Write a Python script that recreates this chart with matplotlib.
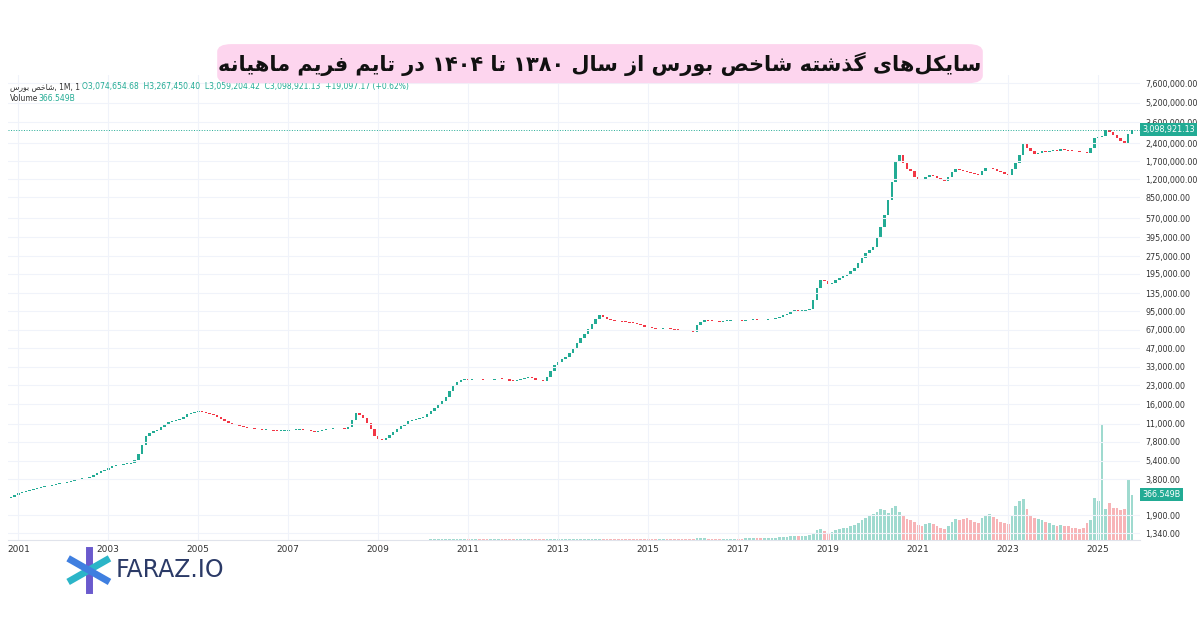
import numpy as np
import matplotlib.pyplot as plt
from matplotlib.patches import FancyBboxPatch

# =============================
# DATA (monthly closes, Oct 2000 .. Oct 2025)
# =============================
START_YEAR, START_MONTH = 2000, 10

closes = [
    2650, 2700, 2800,
    2900, 2950, 3000, 3100, 3150, 3200, 3250, 3300, 3350, 3400, 3450, 3500,
    3550, 3600, 3700, 3750, 3800, 3850, 3900, 3950, 4100, 4250, 4400, 4550,
    4700, 4850, 4950, 5000, 5100, 5100, 5200, 5500, 6200, 7300, 8700, 9300,
    9500, 9800, 10300, 10900, 11300, 11600, 11800, 12100, 12600, 13200, 13600, 13900,
    14000, 13800, 13500, 13300, 13000, 12500, 12000, 11600, 11200, 10900, 10700, 10500,
    10300, 10200, 10100, 10000, 9900, 9800, 9800, 9700, 9650, 9600, 9600, 9650,
    9700, 9750, 9800, 9900, 9850, 9700, 9500, 9400, 9500, 9700, 9900, 10000,
    10100, 10200, 10100, 10000, 10300, 11800, 13500, 13000, 12200, 11200, 10000, 8700,
    8200, 8000, 8300, 8800, 9400, 10000, 10500, 11000, 11500, 11800, 12000, 12200,
    12500, 13200, 14000, 14800, 15800, 17000, 18500, 20500, 22500, 24500, 25500, 26000,
    25500, 25800, 26000, 25800, 25500, 25300, 25600, 25900, 26200, 26100, 25800, 25200,
    25000, 25500, 26000, 26500, 26800, 26300, 25700, 25400, 24800, 27000, 30500, 34000,
    36000, 38000, 40000, 43000, 47000, 52000, 57000, 62000, 68000, 75000, 82000, 89000,
    86000, 82000, 80000, 79000, 78500, 78000, 77500, 76500, 76000, 75000, 73000, 71000,
    70000, 68500, 67500, 68000, 69000, 68500, 68000, 67000, 66500, 66000, 65500, 65000,
    64500, 73000, 78000, 80000, 79500, 79000, 78500, 78000, 79000, 79500, 80000, 80500,
    80000, 79500, 80000, 80500, 81000, 80500, 80000, 80500, 81500, 82500, 84000, 86000,
    88000, 91000, 95000, 97000, 96000, 96500, 97000, 100000, 118000, 150000, 175000, 172000,
    160000, 164000, 175000, 180000, 186000, 195000, 205000, 220000, 240000, 265000, 290000, 310000,
    330000, 390000, 480000, 600000, 800000, 1150000, 1700000, 1900000, 1650000, 1450000, 1420000, 1250000,
    1200000, 1180000, 1250000, 1300000, 1280000, 1220000, 1190000, 1170000, 1250000, 1380000, 1450000, 1430000,
    1410000, 1390000, 1360000, 1330000, 1310000, 1400000, 1480000, 1500000, 1460000, 1420000, 1370000, 1320000,
    1300000, 1450000, 1650000, 1900000, 2350000, 2200000, 2050000, 1950000, 2000000, 2050000, 2020000, 2080000,
    2100000, 2080000, 2150000, 2120000, 2080000, 2070000, 2050000, 2030000, 2020000, 2000000, 2200000, 2650000,
    2700000, 2750000, 3100000, 3000000, 2800000, 2650000, 2500000, 2350000, 2850000, 3098921.13,
]

# volume in billions
volumes = [
    1, 1, 1,
    1, 1, 1, 1, 1, 1, 1, 1, 1, 1, 1, 1,
    1, 1, 1, 1, 1, 1, 1, 1, 1, 1, 1, 1,
    1, 1, 1, 1, 1, 1, 1, 1, 2, 2, 2, 2,
    2, 2, 2, 2, 2, 2, 2, 2, 2, 2, 2, 2,
    2, 2, 2, 2, 2, 2, 2, 2, 2, 2, 2, 2,
    2, 2, 2, 2, 2, 2, 2, 2, 2, 2, 2, 2,
    2, 2, 2, 2, 2, 2, 2, 2, 2, 2, 2, 2,
    2, 2, 2, 2, 3, 3, 3, 3, 3, 3, 3, 3,
    3, 3, 3, 3, 3, 3, 3, 3, 3, 3, 3, 3,
    3, 3, 4, 4, 4, 4, 5, 5, 5, 5, 5, 5,
    5, 5, 5, 5, 5, 5, 5, 5, 5, 5, 5, 5,
    5, 5, 5, 5, 5, 5, 5, 5, 5, 6, 6, 7,
    7, 7, 8, 8, 8, 9, 9, 9, 10, 10, 11, 11,
    10, 10, 9, 9, 9, 9, 9, 9, 9, 9, 9, 9,
    9, 9, 9, 9, 9, 9, 9, 9, 9, 9, 9, 9,
    9, 12, 12, 12, 10, 10, 10, 10, 10, 10, 10, 10,
    10, 10, 12, 12, 12, 12, 14, 14, 15, 16, 18, 20,
    22, 25, 30, 30, 28, 30, 32, 40, 60, 80, 90, 70,
    60, 65, 80, 90, 95, 100, 110, 120, 140, 160, 180, 200,
    210, 230, 250, 240, 220, 260, 280, 230, 200, 170, 160, 150,
    120, 110, 130, 140, 130, 110, 100, 90, 110, 150, 170, 160,
    170, 180, 160, 150, 140, 180, 200, 210, 190, 170, 150, 140,
    130, 200, 280, 320, 330, 250, 200, 180, 170, 160, 150, 140,
    120, 110, 120, 115, 110, 100, 95, 90, 100, 140, 160, 340,
    320, 940, 250, 300, 260, 260, 240, 250, 500, 366.549,
]

YEAR_TICKS = list(range(2001, 2026, 2))
PRICE_TICKS = [1340, 1900, 3800, 5400, 7800, 11000, 16000, 23000, 33000, 47000, 67000,
               95000, 135000, 195000, 275000, 395000, 570000, 850000, 1200000, 1700000,
               2400000, 3600000, 5200000, 7600000]

TITLE = "سایکل‌های گذشته شاخص بورس از سال ۱۳۸۰ تا ۱۴۰۴ در تایم فریم ماهیانه"

UP = "#22ab94"
DOWN = "#f23645"
UP_VOL = "#9fdacf"
DOWN_VOL = "#f7b4b7"

# =============================
# Minimal Persian shaping (matplotlib has no bidi / shaping)
# =============================
FORMS = {  # iso, fin, ini, med (None -> right-joining only)
    "ا": (0xFE8D, 0xFE8E, None, None),
    "ب": (0xFE8F, 0xFE90, 0xFE91, 0xFE92),
    "ت": (0xFE95, 0xFE96, 0xFE97, 0xFE98),
    "خ": (0xFEA5, 0xFEA6, 0xFEA7, 0xFEA8),
    "د": (0xFEA9, 0xFEAA, None, None),
    "ذ": (0xFEAB, 0xFEAC, None, None),
    "ر": (0xFEAD, 0xFEAE, None, None),
    "ز": (0xFEAF, 0xFEB0, None, None),
    "س": (0xFEB1, 0xFEB2, 0xFEB3, 0xFEB4),
    "ش": (0xFEB5, 0xFEB6, 0xFEB7, 0xFEB8),
    "ص": (0xFEB9, 0xFEBA, 0xFEBB, 0xFEBC),
    "ف": (0xFED1, 0xFED2, 0xFED3, 0xFED4),
    "ک": (0xFB8E, 0xFB8F, 0xFB90, 0xFB91),
    "گ": (0xFB92, 0xFB93, 0xFB94, 0xFB95),
    "ل": (0xFEDD, 0xFEDE, 0xFEDF, 0xFEE0),
    "م": (0xFEE1, 0xFEE2, 0xFEE3, 0xFEE4),
    "ن": (0xFEE5, 0xFEE6, 0xFEE7, 0xFEE8),
    "ه": (0xFEE9, 0xFEEA, 0xFEEB, 0xFEEC),
    "و": (0xFEED, 0xFEEE, None, None),
    "ی": (0xFBFC, 0xFBFD, 0xFBFE, 0xFBFF),
}


def dual(c):
    return c in FORMS and FORMS[c][2] is not None


def shape(text):
    out = []
    for i, c in enumerate(text):
        if c not in FORMS:
            if c != "\u200c":
                out.append(c)
            continue
        prev = text[i - 1] if i > 0 else ""
        nxt = text[i + 1] if i + 1 < len(text) else ""
        jp = dual(prev)
        jn = dual(c) and nxt in FORMS
        iso, fin, ini, med = FORMS[c]
        if jp and jn:
            cp = med
        elif jp:
            cp = fin
        elif jn:
            cp = ini
        else:
            cp = iso
        out.append(chr(cp))
    s = "".join(out)[::-1]
    # put digit runs back in reading order
    res, run = [], []
    for ch in s:
        if ch.isdigit():
            run.append(ch)
        else:
            res.extend(run[::-1]); run = []
            res.append(ch)
    res.extend(run[::-1])
    return "".join(res)


# =============================
# PLOT
# =============================
plt.rcParams['font.family'] = ['DejaVu Sans', 'Noto Sans']

closes = np.array(closes, dtype=float)
volumes = np.array(volumes, dtype=float)
n = len(closes)
t = START_YEAR + (START_MONTH - 1) / 12 + np.arange(n) / 12
opens = np.concatenate([[closes[0] * 0.98], closes[:-1]])
up = closes >= opens

fig = plt.figure(figsize=(12, 6.3), dpi=100)
ax = fig.add_axes([0.007, 0.143, 0.943, 0.738])
axv = ax.twinx()
ax.set_zorder(2); ax.patch.set_visible(False)
axv.set_zorder(1)

# volume
axv.bar(t, volumes, width=0.06, color=np.where(up, UP_VOL, DOWN_VOL), align="center")
axv.set_ylim(0, 3790)
axv.set_yticks([])
for s in axv.spines.values():
    s.set_visible(False)

# candles
bottoms = np.minimum(opens, closes)
heights = np.abs(closes - opens)
heights = np.maximum(heights, bottoms * 0.012)
ax.bar(t, heights, bottom=bottoms, width=0.055, color=np.where(up, UP, DOWN), align="center")

ax.set_yscale("log")
ax.set_ylim(1183, 8.9e6)
ax.set_xlim(2000.78, 2025.93)
ax.yaxis.tick_right()
ax.set_yticks(PRICE_TICKS)
ax.set_yticklabels([f"{v:,.2f}" for v in PRICE_TICKS])
ax.minorticks_off()
ax.tick_params(axis="y", length=0, labelsize=5.8, colors="#333333", pad=4)
ax.set_xticks(YEAR_TICKS)
ax.set_xticklabels([str(y) for y in YEAR_TICKS])
ax.tick_params(axis="x", length=0, labelsize=6.5, colors="#333333", pad=4)
ax.grid(True, color="#f0f3fa", linewidth=0.8)
for k, s in ax.spines.items():
    s.set_visible(k == "bottom")
ax.spines["bottom"].set_color("#e0e3eb")

# last price line and label
last = closes[-1]
ax.axhline(last, color=UP, linestyle=":", linewidth=0.7)
ax.text(1.002, last, f"{last:,.2f}", transform=ax.get_yaxis_transform(), fontsize=5.8,
        color="white", va="center", ha="left",
        bbox=dict(boxstyle="square,pad=0.25", fc=UP, ec="none"))
axv.text(1.002, volumes[-1], f"{volumes[-1]:.3f}B", transform=axv.get_yaxis_transform(),
         fontsize=5.8, color="white", va="center", ha="left",
         bbox=dict(boxstyle="square,pad=0.25", fc=UP, ec="none"))

# legend header
fig.text(0.008, 0.858, shape("شاخص بورس") + ", 1M, 1", fontsize=5.5, color="#333333")
fig.text(0.068, 0.858, "O3,074,654.68  H3,267,450.40  L3,059,204.42  C3,098,921.13  +19,097.17 (+0.62%)",
         fontsize=5.5, color=UP)
fig.text(0.008, 0.840, "Volume", fontsize=5.5, color="#333333")
fig.text(0.032, 0.840, f"{volumes[-1]:.3f}B", fontsize=5.5, color=UP)

# title box
box = FancyBboxPatch((0.181, 0.868), 0.638, 0.062, boxstyle="round,pad=0,rounding_size=0.012",
                     transform=fig.transFigure, fc="#fdd5ee", ec="none", zorder=5)
fig.patches.append(box)
fig.text(0.5, 0.899, shape(TITLE), fontsize=15, fontweight="bold", ha="center", va="center",
         color="#111111", zorder=6)

# logo
lx, ly = 0.074, 0.095
for ang, col in [(90, "#6a5acd"), (30, "#2bb5c8"), (150, "#3f7fe0")]:
    a = np.deg2rad(ang)
    fig.add_artist(plt.Line2D([lx - 0.017 * np.cos(a), lx + 0.017 * np.cos(a)],
                              [ly - 0.032 * np.sin(a), ly + 0.032 * np.sin(a)],
                              transform=fig.transFigure, color=col, linewidth=5))
fig.text(0.096, 0.095, "FARAZ.IO", fontsize=17, color="#2b3a67", va="center")

fig.savefig("out.png", dpi=100, facecolor="white")
